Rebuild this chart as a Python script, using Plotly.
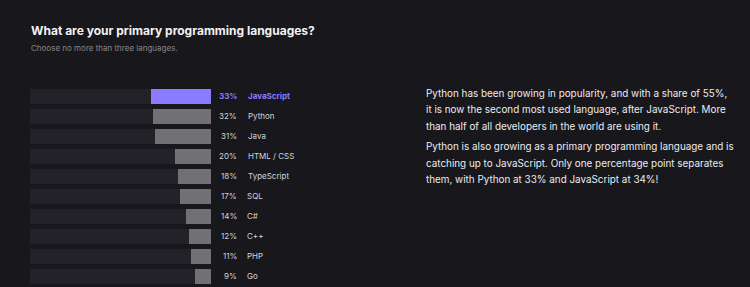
import plotly.graph_objects as go

languages = ["JavaScript", "Python", "Java", "HTML / CSS", "TypeScript", "SQL", "C#", "C++", "PHP", "Go"]
shares = [33, 32, 31, 20, 18, 17, 14, 12, 11, 9]
highlight = "JavaScript"

title = "What are your primary programming languages?"
subtitle = "Choose no more than three languages."
para1 = ["Python has been growing in popularity, and with a share of 55%,",
         "it is now the second most used language, after JavaScript. More",
         "than half of all developers in the world are using it."]
para2 = ["Python is also growing as a primary programming language and is",
         "catching up to JavaScript. Only one percentage point separates",
         "them, with Python at 33% and JavaScript at 34%!"]

W, H = 750, 287
BG = "#18171c"
TRACK = "#232228"
GRAY = "#717073"
PURPLE = "#8a7bff"
TEXT = "#d4d4d6"

def px(x):
    return x / W

def py(y):
    return 1 - y / H

colors = [PURPLE if l == highlight else GRAY for l in languages]

fig = go.Figure()
fig.add_trace(go.Bar(y=languages, x=[100] * len(languages), orientation="h",
                     marker=dict(color=TRACK, line=dict(width=0)), width=0.75,
                     hoverinfo="skip", showlegend=False))
fig.add_trace(go.Bar(y=languages, x=shares, orientation="h",
                     marker=dict(color=colors, line=dict(width=0)), width=0.75,
                     showlegend=False))

annotations = []
for lang, s in zip(languages, shares):
    c = PURPLE if lang == highlight else TEXT
    b = lang == highlight
    annotations.append(dict(x=px(239), y=lang, xref="paper", yref="y", xanchor="right",
                            yanchor="middle", showarrow=False,
                            text=(f"<b>{s}%</b>" if b else f"{s}%"),
                            font=dict(family="Inter", size=8, color=c)))
    annotations.append(dict(x=px(245.5), y=lang, xref="paper", yref="y", xanchor="left",
                            yanchor="middle", showarrow=False,
                            text=(f"<b>{lang}</b>" if b else lang),
                            font=dict(family="Inter", size=8, color=c)))

annotations.append(dict(x=px(29), y=py(30), xref="paper", yref="paper", xanchor="left",
                        yanchor="middle", showarrow=False, text=f"<b>{title}</b>",
                        font=dict(family="Inter", size=12, color="#f2f2f4")))
annotations.append(dict(x=px(29), y=py(48), xref="paper", yref="paper", xanchor="left",
                        yanchor="middle", showarrow=False, text=subtitle,
                        font=dict(family="Inter", size=8, color="#86858b")))

for i, line in enumerate(para1):
    annotations.append(dict(x=px(424), y=py(93 + i * 16.5), xref="paper", yref="paper",
                            xanchor="left", yanchor="middle", showarrow=False, text=line,
                            font=dict(family="Inter", size=9.9, color="#ececee")))
for i, line in enumerate(para2):
    annotations.append(dict(x=px(424), y=py(146 + i * 16.5), xref="paper", yref="paper",
                            xanchor="left", yanchor="middle", showarrow=False, text=line,
                            font=dict(family="Inter", size=9.9, color="#ececee")))

fig.update_layout(
    width=W, height=H,
    margin=dict(l=0, r=0, t=0, b=0),
    paper_bgcolor=BG, plot_bgcolor=BG,
    barmode="overlay",
    bargap=0,
    xaxis=dict(domain=[px(30), px(211)], range=[100, 0], visible=False, fixedrange=True),
    yaxis=dict(domain=[py(285.5), py(85.5)], autorange="reversed", visible=False,
               categoryorder="array", categoryarray=languages, fixedrange=True),
    annotations=annotations,
)

fig.write_html("out.html")
